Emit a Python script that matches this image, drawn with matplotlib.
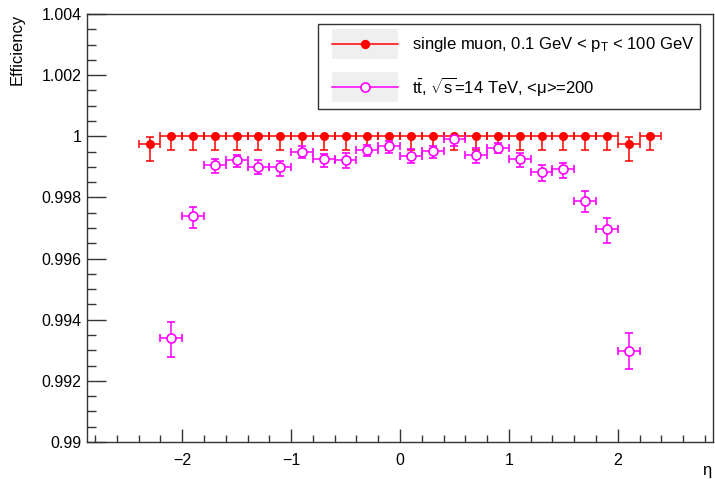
import matplotlib
matplotlib.use('Agg')
import matplotlib.pyplot as plt
from matplotlib.lines import Line2D
from matplotlib.patches import Rectangle
from matplotlib.ticker import MultipleLocator

plt.rcParams['font.family'] = ['Liberation Sans', 'DejaVu Sans']
plt.rcParams['mathtext.fontset'] = 'custom'
plt.rcParams['mathtext.rm'] = 'Liberation Sans'
plt.rcParams['mathtext.it'] = 'Liberation Sans'
plt.rcParams['mathtext.default'] = 'regular'

# single muon efficiency vs eta
eta_mu = [-2.3, -2.1, -1.9, -1.7, -1.5, -1.3, -1.1, -0.9, -0.7, -0.5, -0.3, -0.1,
          0.1, 0.3, 0.5, 0.7, 0.9, 1.1, 1.3, 1.5, 1.7, 1.9, 2.1, 2.3]
eff_mu = [0.99976, 1.0, 1.0, 1.0, 1.0, 1.0, 1.0, 1.0, 1.0, 1.0, 1.0, 1.0,
          1.0, 1.0, 1.0, 1.0, 1.0, 1.0, 1.0, 1.0, 1.0, 1.0, 0.99976, 1.0]
lo_mu = [0.00056, 0.00045, 0.00045, 0.00045, 0.00045, 0.00045, 0.00045, 0.00045,
         0.00045, 0.00045, 0.00045, 0.00045, 0.00045, 0.00045, 0.00045, 0.00045,
         0.00045, 0.00045, 0.00045, 0.00045, 0.00045, 0.00045, 0.00056, 0.00045]
hi_mu = [0.00023, 0, 0, 0, 0, 0, 0, 0, 0, 0, 0, 0,
         0, 0, 0, 0, 0, 0, 0, 0, 0, 0, 0.00023, 0]

# ttbar, <mu>=200
eta_tt = [-2.1, -1.9, -1.7, -1.5, -1.3, -1.1, -0.9, -0.7, -0.5, -0.3, -0.1,
          0.1, 0.3, 0.5, 0.7, 0.9, 1.1, 1.3, 1.5, 1.7, 1.9, 2.1]
eff_tt = [0.99341, 0.99739, 0.99906, 0.99921, 0.99901, 0.99899, 0.99950, 0.99925,
          0.99921, 0.99954, 0.99967, 0.99936, 0.99951, 0.99990, 0.99940, 0.99963,
          0.99925, 0.99884, 0.99892, 0.99789, 0.99697, 0.99299]
lo_tt = [0.00062, 0.00040, 0.00026, 0.00023, 0.00024, 0.00028, 0.00022, 0.00024,
         0.00026, 0.00019, 0.00021, 0.00024, 0.00023, 0.00021, 0.00026, 0.00018,
         0.00024, 0.00031, 0.00030, 0.00036, 0.00045, 0.00060]
hi_tt = [0.00053, 0.00031, 0.00021, 0.00018, 0.00022, 0.00021, 0.00019, 0.00018,
         0.00023, 0.00018, 0.00016, 0.00022, 0.00018, 0.00010, 0.00021, 0.00014,
         0.00020, 0.00022, 0.00022, 0.00032, 0.00035, 0.00059]
bin_half = 0.1

label_mu = r'single muon, 0.1 GeV < p$_{T}$ < 100 GeV'
label_tt = r'$t\bar{t}$, $\sqrt{s}$=14 TeV, <$\mu$>=200'

W, H = 715, 479
fig = plt.figure(figsize=(W / 100, H / 100), dpi=100)
ax = fig.add_axes([87 / W, 1 - 442 / H, 626 / W, 428 / H])

ax.errorbar(eta_mu, eff_mu, yerr=[lo_mu, hi_mu], xerr=bin_half, fmt='o', color='red',
            ms=5.5, elinewidth=1.1, capsize=3, capthick=1.1, zorder=3)
ax.errorbar(eta_tt, eff_tt, yerr=[lo_tt, hi_tt], xerr=bin_half, fmt='o', color='#ff00ff',
            mfc='white', mec='#ff00ff', mew=1.2, ms=6.5, elinewidth=1.1, capsize=3,
            capthick=1.1, zorder=4)

ax.set_xlim(-2.875, 2.875)
ax.set_ylim(0.99, 1.004)
ax.xaxis.set_major_locator(MultipleLocator(1))
ax.xaxis.set_minor_locator(MultipleLocator(0.2))
ax.yaxis.set_major_locator(MultipleLocator(0.002))
ax.yaxis.set_minor_locator(MultipleLocator(0.0005))
ax.set_yticks([0.99, 0.992, 0.994, 0.996, 0.998, 1.0, 1.002, 1.004])
ax.set_yticklabels(['0.99', '0.992', '0.994', '0.996', '0.998', '1', '1.002', '1.004'])
ax.set_xticks([-2, -1, 0, 1, 2])
ax.set_xticklabels(['\u22122', '\u22121', '0', '1', '2'])

ax.tick_params(axis='both', which='both', direction='in', color='#333333', width=1,
               top=False, right=False, labelsize=11.5)
ax.tick_params(axis='y', which='major', length=13.5, pad=4)
ax.tick_params(axis='y', which='minor', length=6.7)
ax.tick_params(axis='x', which='major', length=9.5, pad=8)
ax.tick_params(axis='x', which='minor', length=4.7)
for s in ax.spines.values():
    s.set_color('#333333')
    s.set_linewidth(1)

fig.text(10 / W, 1 - 14 / H, 'Efficiency', rotation=90, ha='left', va='top', fontsize=12)
fig.text(711 / W, 1 - 470 / H, '\u03b7', ha='right', va='center', fontsize=12)

# legend box
tf = fig.transFigure
fig.patches.append(Rectangle((318 / W, 1 - 109 / H), 382 / W, 85 / H, transform=tf,
                             fill=False, edgecolor='#333333', lw=1, zorder=5))
rows = [(44, 'red', 'red', label_mu), (87, '#ff00ff', 'white', label_tt)]
for yc, col, face, lab in rows:
    fig.patches.append(Rectangle((332 / W, 1 - (yc + 15) / H), 66 / W, 30 / H,
                                 transform=tf, facecolor='#efefef', edgecolor='none',
                                 zorder=5))
    fig.lines.append(Line2D([332 / W, 398 / W], [1 - yc / H, 1 - yc / H], transform=tf,
                            color=col, lw=1.1, zorder=6))
    fig.lines.append(Line2D([365 / W], [1 - yc / H], transform=tf, marker='o',
                            ms=5.5 if face == 'red' else 6.5, mfc=face, mec=col,
                            mew=1.2, color=col, zorder=7))
    fig.text(412 / W, 1 - yc / H, lab, ha='left', va='center', fontsize=12, zorder=7)

fig.savefig('out.png', dpi=100)
